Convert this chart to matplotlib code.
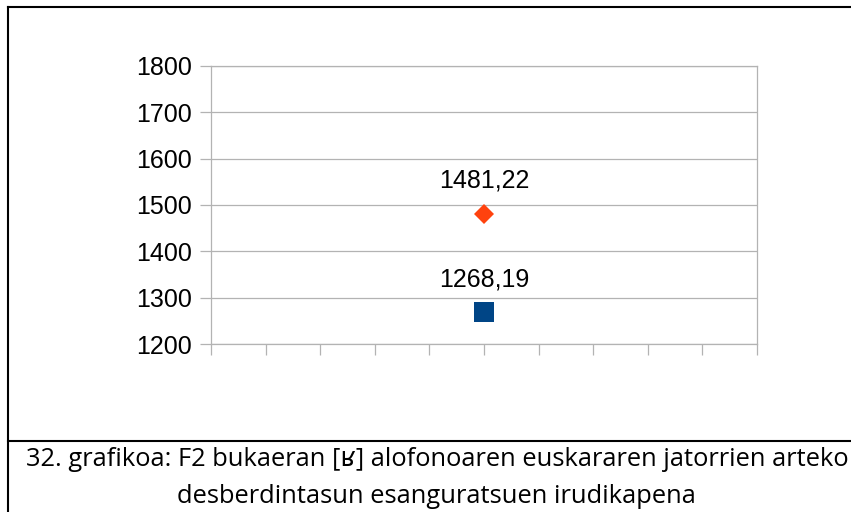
import matplotlib
matplotlib.use("Agg")
import matplotlib.pyplot as plt
from matplotlib.lines import Line2D

# two series sitting on the same category position
series_names = ["Series 1", "Series 2"]
series_x = [5, 5]
series_vals = [1268.19, 1481.22]
series_colors = ["#004586", "#ff420e"]
series_markers = ["s", "D"]
series_sizes = [14.6, 9.8]

y_ticks = [1200, 1300, 1400, 1500, 1600, 1700, 1800]
x_ticks = list(range(0, 11))

caption_lines = [
    "32. grafikoa: F2 bukaeran [ʁ] alofonoaren euskararen jatorrien arteko",
    "desberdintasun esanguratsuen irudikapena",
]

W, H = 851, 512
fig = plt.figure(figsize=(W / 100, H / 100), dpi=100)
fig.patch.set_facecolor("white")

ax = fig.add_axes([211 / W, 1 - 344 / H, (757 - 211) / W, (344 - 66) / H])

grid_col = "#b3b3b3"
for v in y_ticks:
    ax.axhline(v, color=grid_col, linewidth=0.9, zorder=1)

for name, xv, yv, c, m, s in zip(series_names, series_x, series_vals,
                                 series_colors, series_markers, series_sizes):
    ax.plot([xv], [yv], linestyle="none", marker=m, markersize=s,
            color=c, markeredgewidth=0, zorder=3, label=name)
    ax.annotate(f"{yv:.2f}".replace(".", ","), (xv, yv),
                xytext=(0, 15), textcoords="offset points",
                ha="center", va="bottom", fontsize=18,
                family="Liberation Sans", color="black")

ax.set_xlim(0, 10)
ax.set_ylim(1200, 1800)
ax.set_xticks(x_ticks)
ax.set_xticklabels([])
ax.set_yticks(y_ticks)
ax.set_yticklabels([str(v) for v in y_ticks], fontsize=18, family="Liberation Sans")
ax.tick_params(axis="both", length=8, width=0.9, color=grid_col, pad=5.5)
for sp in ax.spines.values():
    sp.set_color(grid_col)
    sp.set_linewidth(0.9)

# frame lines around chart and caption
lw = 1.5
fig.add_artist(Line2D([8 / W, 1], [1 - 7 / H, 1 - 7 / H], color="black", linewidth=lw))
fig.add_artist(Line2D([8 / W, 8 / W], [0, 1 - 7 / H], color="black", linewidth=lw))
fig.add_artist(Line2D([8 / W, 1], [1 - 441 / H, 1 - 441 / H], color="black", linewidth=lw))

cap_font = ["Open Sans", "DejaVu Sans"]
fig.text(437 / W, 1 - 466 / H, caption_lines[0], ha="center", va="baseline",
         fontsize=18.4, family=cap_font)
fig.text(436 / W, 1 - 503 / H, caption_lines[1], ha="center", va="baseline",
         fontsize=18.4, family=cap_font)

fig.savefig("out.png", dpi=100)
